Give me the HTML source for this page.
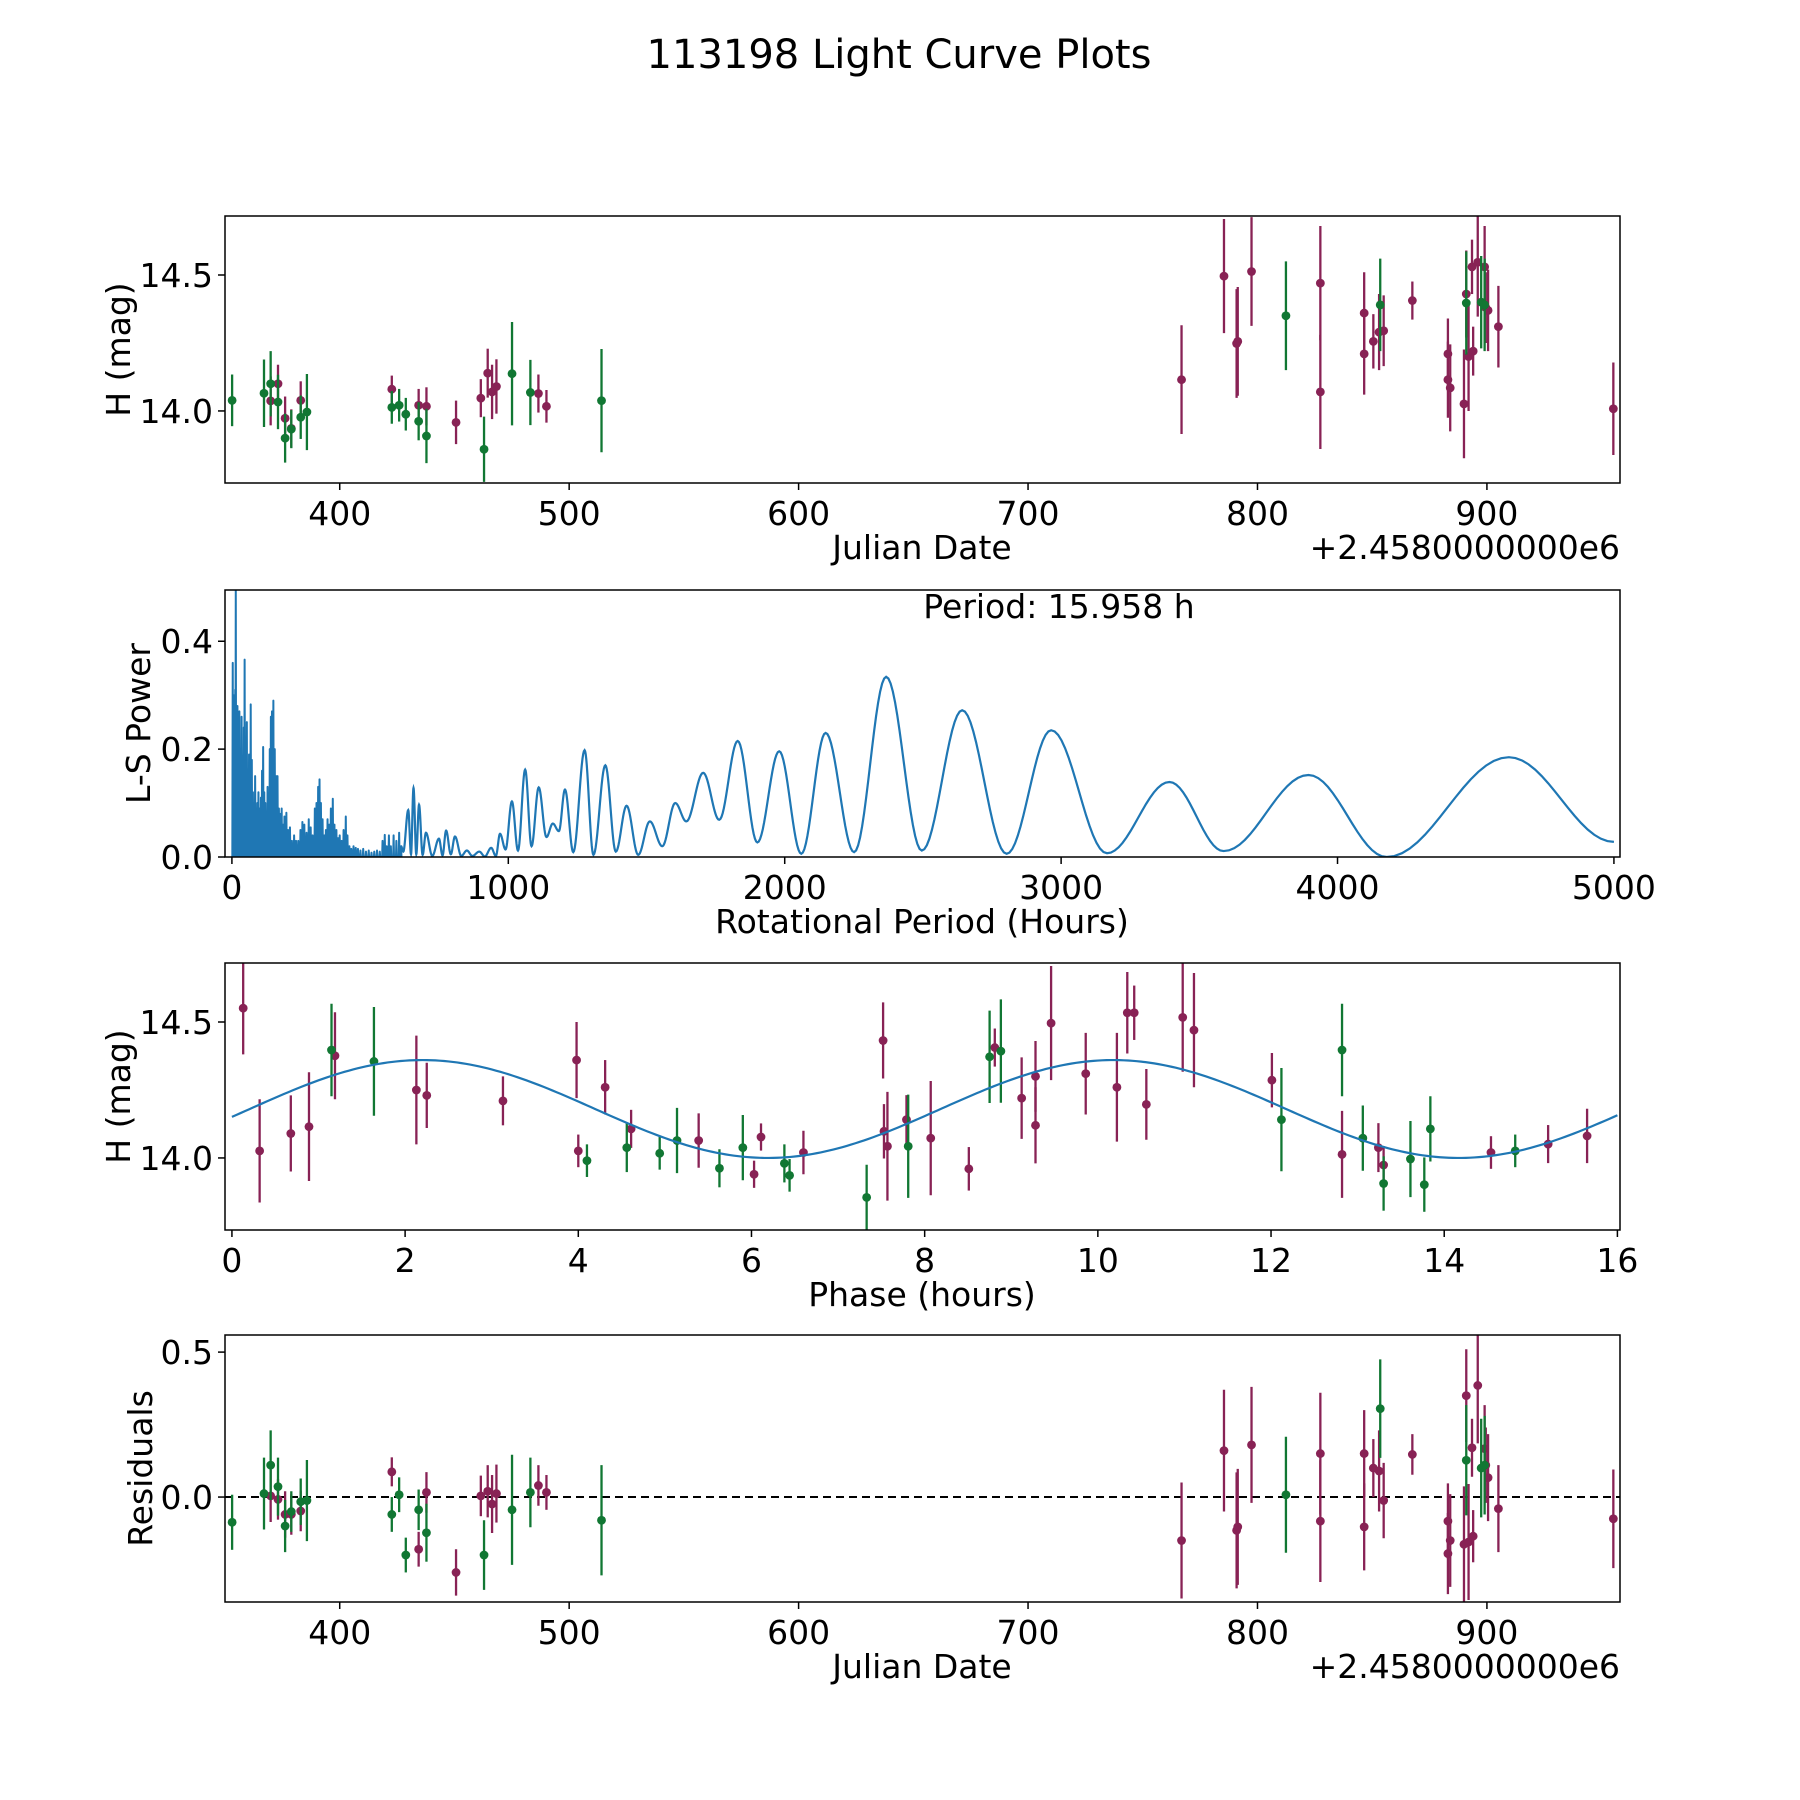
<!DOCTYPE html>
<html><head><meta charset="utf-8"><style>
body{margin:0;background:#fff;}
svg{display:block;font-family:"DejaVu Sans","Liberation Sans",sans-serif;}
</style></head><body>
<svg id="fig" width="1800" height="1800" viewBox="0 0 1800 1800" xmlns="http://www.w3.org/2000/svg">
<rect width="1800" height="1800" fill="#fff"/>
<text x="899" y="68" font-size="40" text-anchor="middle">113198 Light Curve Plots</text>
</svg>
<script>
// ---- Panel 1 data (Julian date offset, H mag, error) ----
const jdM = [369.9,373.1,376.2,378.9,383,422.7,434.4,437.8,450.7,461.5,464.5,466.4,468.3,486.6,490.1,766.9,785.4,790.9,791.4,797.4,827.4,827.4,846.5,846.5,850.5,853,855,867.5,883,883,884,890,891,892,893.5,894,896,899,899.5,900.5,905,955.1];
const hM = [14.037,14.10,13.973,13.936,14.039,14.08,14.021,14.017,13.958,14.047,14.139,14.07,14.09,14.064,14.017,14.115,14.496,14.248,14.256,14.513,14.47,14.07,14.36,14.21,14.256,14.29,14.295,14.406,14.21,14.115,14.085,14.026,14.43,14.2,14.53,14.22,14.547,14.53,14.38,14.37,14.31,14.008];
const eM = [.09,.07,.08,.07,.07,.05,.06,.07,.08,.07,.09,.1,.1,.07,.06,.2,.21,.2,.2,.2,.21,.21,.15,.15,.1,.14,.13,.07,.13,.14,.16,.2,.16,.2,.1,.09,.2,.15,.13,.15,.15,.17];
const resM = [0.004,-0.008,-0.06,-0.06,-0.048,0.087,-0.18,0.016,-0.26,0.004,0.02,-0.024,0.012,0.04,0.016,-0.15,0.16,-0.115,-0.103,0.18,0.15,-0.083,0.15,-0.103,0.1,0.09,-0.012,0.147,-0.083,-0.195,-0.15,-0.163,0.35,-0.155,0.17,-0.135,0.385,0.167,0.11,0.067,-0.04,-0.075];
const jdG = [353.1,367,369.9,373.1,376.2,378.9,383,385.7,422.7,425.9,428.8,434.4,437.8,462.9,475.1,483.1,514.1,812.4,853.5,891,897.5,899];
const hG = [14.039,14.065,14.10,14.033,13.90,13.933,13.977,13.996,14.013,14.021,13.988,13.962,13.908,13.859,14.137,14.068,14.038,14.35,14.39,14.397,14.4,14.39];
const eG = [.095,.124,.12,.1,.09,.07,.08,.14,.06,.06,.06,.07,.1,.12,.19,.12,.19,.2,.17,.19,.17,.17];
const resG = [-0.087,0.012,0.11,0.036,-0.10,-0.05,-0.016,-0.012,-0.06,0.008,-0.2,-0.044,-0.123,-0.2,-0.044,0.016,-0.08,0.008,0.305,0.127,0.1,0.11];
// ---- Phase-folded data ----
const phM = [0.13,0.32,0.68,0.89,1.19,2.13,2.25,3.13,3.98,4.0,4.31,4.61,5.39,6.03,6.11,6.6,7.52,7.53,7.57,7.79,8.07,8.51,8.81,9.12,9.28,9.28,9.46,9.86,10.22,10.34,10.42,10.56,10.98,11.11,12.01,12.82,13.24,13.3,14.54,15.2,15.65];
const phHM = [14.551,14.026,14.09,14.115,14.376,14.25,14.23,14.21,14.36,14.026,14.26,14.107,14.064,13.94,14.077,14.02,14.432,14.098,14.043,14.141,14.073,13.96,14.406,14.22,14.30,14.12,14.496,14.31,14.26,14.534,14.534,14.197,14.517,14.47,14.286,14.013,14.038,13.974,14.02,14.051,14.081];
const phEM = [.17,.19,.14,.2,.16,.2,.12,.09,.14,.06,.1,.07,.1,.05,.05,.08,.14,.1,.2,.09,.21,.08,.07,.15,.13,.14,.21,.15,.2,.15,.1,.13,.2,.21,.1,.16,.09,.07,.06,.07,.1];
const phG = [1.15,1.64,4.1,4.56,4.94,5.14,5.63,5.9,6.38,6.44,7.33,7.81,8.75,8.88,12.12,12.82,13.06,13.3,13.61,13.77,13.84,14.82];
const phHG = [14.397,14.355,13.99,14.038,14.017,14.064,13.962,14.038,13.98,13.936,13.855,14.043,14.372,14.393,14.141,14.397,14.073,13.906,13.996,13.902,14.107,14.026];
const phEG = [.17,.2,.06,.09,.06,.12,.07,.12,.07,.06,.12,.19,.17,.19,.19,.17,.12,.1,.14,.1,.12,.06];
// model: [mean, amplitude, peak phase, sinusoid period]
const modelParams = [14.18, 0.18, 2.2, 7.979];
// ---- Periodogram ----
const spikeP = [3,6,9,12,14,17,20,24,27,31,35,39,43,46,50,54,58,62,66,68,72,76,80,84,88,92,96,100,105,109,113,117,121,125,129,133,137,141,145,150,155,160,165,170,175,180,185,190,197,203,210,217,225,232,240,248,255,262,270,278,285,292,300,306,312,317,322,328,334,340,346,352,358,365,371,378,384,390,397,404,412,418,425,432,440,448,456,465,475,485,495,505,515,525,535,545,553,560,568,575,585,595,605,612];
const spikePow = [0.36,0.30,0.27,0.31,0.5,0.25,0.28,0.22,0.27,0.2,0.26,0.18,0.24,0.366,0.2,0.25,0.15,0.19,0.14,0.283,0.18,0.12,0.1,0.15,0.09,0.1,0.12,0.09,0.11,0.16,0.204,0.12,0.1,0.08,0.13,0.09,0.2,0.26,0.27,0.29,0.2,0.15,0.15,0.09,0.08,0.09,0.06,0.075,0.082,0.05,0.055,0.03,0.04,0.03,0.03,0.05,0.065,0.06,0.045,0.07,0.055,0.04,0.09,0.1,0.13,0.144,0.1,0.07,0.04,0.05,0.07,0.06,0.09,0.108,0.06,0.05,0.035,0.04,0.03,0.05,0.075,0.04,0.02,0.015,0.02,0.017,0.015,0.012,0.015,0.01,0.012,0.008,0.01,0.012,0.01,0.03,0.041,0.02,0.04,0.02,0.04,0.03,0.045,0.02];
const extP = [620,638,648,657,667,677,690,702,725,749,762,775,792,807,830,850,870,895,915,938,955,970,990,1013,1035,1061,1084,1110,1138,1161,1183,1205,1235,1276,1308,1351,1389,1428,1470,1512,1557,1604,1644,1705,1763,1830,1901,1980,2060,2148,2251,2367,2496,2642,2803,2964,3166,3392,3588,3895,4178,4620,5000];
const extPow = [0.01,0.087,0.005,0.128,0.005,0.097,0.004,0.045,0.002,0.034,0.003,0.049,0.005,0.038,0.002,0.012,0.002,0.01,0.001,0.017,0.002,0.043,0.014,0.103,0.012,0.162,0.02,0.129,0.037,0.062,0.048,0.125,0.009,0.198,0.004,0.17,0.01,0.095,0.004,0.066,0.02,0.1,0.066,0.156,0.069,0.215,0.027,0.196,0.006,0.23,0.009,0.334,0.012,0.272,0.006,0.235,0.007,0.139,0.011,0.152,0.0,0.185,0.028];

const NS='http://www.w3.org/2000/svg';
const svg=document.getElementById('fig');
const MAG='#882255', GRN='#117733', BLUE='#1f77b4';
const FS=33;
function el(tag,attrs,parent){const e=document.createElementNS(NS,tag);for(const k in attrs)e.setAttribute(k,attrs[k]);(parent||svg).appendChild(e);return e;}
function txt(s,attrs,parent){const e=el('text',attrs,parent);e.textContent=s;return e;}

function makeAxes(cfg){
  const g=el('g',{});
  
  
  const L=225,R=1620,T=cfg.top,B=cfg.top+267;
  const sx=v=>L+(v-cfg.xlim[0])/(cfg.xlim[1]-cfg.xlim[0])*(R-L);
  const sy=v=>B-(v-cfg.ylim[0])/(cfg.ylim[1]-cfg.ylim[0])*(B-T);
  const clipId='clip-'+cfg.name;
  const cp=el('clipPath',{id:clipId},g);el('rect',{x:L,y:T,width:R-L,height:B-T},cp);
  const plot=el('g',{'clip-path':'url(#'+clipId+')'},g);
  
  
  cfg.xticks.forEach((t,i)=>{const x=sx(t);
    el('line',{x1:x,x2:x,y1:B,y2:B+7,stroke:'#000','stroke-width':1.5},g);
    const lb=txt(cfg.xtl[i],{x:x,y:B+42,'font-size':FS,'text-anchor':'middle'},g);
    
    });
  cfg.yticks.forEach((t,i)=>{const y=sy(t);
    el('line',{x1:L-7,x2:L,y1:y,y2:y,stroke:'#000','stroke-width':1.5},g);
    const lb=txt(cfg.ytl[i],{x:L-12,y:y+12,'font-size':FS,'text-anchor':'end'},g);
    
    });
  const xl=txt(cfg.xlabel,{x:922,y:B+76,'font-size':FS,'text-anchor':'middle'},g);
  
  
  const yl=txt(cfg.ylabel,{x:0,y:0,'font-size':FS,'text-anchor':'middle',transform:`translate(${cfg.ylx},${(T+B)/2}) rotate(-90)`},g);
  
  
  if(cfg.offset){const o=txt(cfg.offset,{x:R,y:B+76,'font-size':FS,'text-anchor':'end'},g);
    
    }
  return {g,plot,sx,sy,L,R,T,B};
}
function frame(ax){el('rect',{x:ax.L,y:ax.T,width:ax.R-ax.L,height:ax.B-ax.T,fill:'none',stroke:'#000','stroke-width':1.5},ax.g);}
function errSeries(ax,xs,ys,es,color,name){
  const sg=el('g',{},ax.plot);
  
  
  xs.forEach((x,i)=>{
    const px=ax.sx(x);
    el('line',{x1:px,x2:px,y1:ax.sy(ys[i]-es[i]),y2:ax.sy(ys[i]+es[i]),stroke:color,'stroke-width':2.3},sg);
    const c=el('circle',{cx:px,cy:ax.sy(ys[i]),r:4.4,fill:color},sg);
    
    
  });
}
const jdTicks=[400,500,600,700,800,900];
const a1=makeAxes({name:'light-curve-panel',top:216,xlim:[350,958],ylim:[13.735,14.717],xticks:jdTicks,xtl:jdTicks.map(String),yticks:[14.0,14.5],ytl:['14.0','14.5'],xlabel:'Julian Date',ylabel:'H (mag)',ylx:130,offset:'+2.4580000000e6'});
errSeries(a1,jdM,hM,eM,MAG,'series-magenta');
errSeries(a1,jdG,hG,eG,GRN,'series-green');
frame(a1);
const pTicks=[0,1000,2000,3000,4000,5000];
const a2=makeAxes({name:'periodogram-panel',top:590,xlim:[-25,5022],ylim:[0,0.495],xticks:pTicks,xtl:pTicks.map(String),yticks:[0,0.2,0.4],ytl:['0.0','0.2','0.4'],xlabel:'Rotational Period (Hours)',ylabel:'L-S Power',ylx:150});
(function(){
  let d='M'+a2.sx(0)+','+a2.sy(0);
  spikeP.forEach((p,i)=>{d+=' L'+a2.sx(p-1.5)+','+a2.sy(0)+' L'+a2.sx(p)+','+a2.sy(spikePow[i])+' L'+a2.sx(p+1.5)+','+a2.sy(0);});
  const sp=el('path',{d:d+' Z',fill:BLUE,stroke:BLUE,'stroke-width':2,'stroke-linejoin':'round'},a2.plot);
  
  
  let c='M'+a2.sx(spikeP[spikeP.length-1])+','+a2.sy(spikePow[spikePow.length-1]);
  let prevP=spikeP[spikeP.length-1], prevV=spikePow[spikePow.length-1];
  for(let i=0;i<extP.length;i++){
    const p1=extP[i],v1=extPow[i];
    for(let k=1;k<=16;k++){const f=k/16;const w=(1-Math.cos(Math.PI*f))/2;
      c+=' L'+a2.sx(prevP+(p1-prevP)*f).toFixed(2)+','+a2.sy(prevV+(v1-prevV)*w).toFixed(2);}
    prevP=p1;prevV=v1;
  }
  const ln=el('path',{d:c,fill:'none',stroke:BLUE,'stroke-width':2.2},a2.plot);
  
  
})();
const pt=txt('Period: 15.958 h',{x:1059,y:618,'font-size':FS,'text-anchor':'middle'},a2.g);


frame(a2);
const phTicks=[0,2,4,6,8,10,12,14,16];
const a3=makeAxes({name:'phase-panel',top:963,xlim:[-0.08,16.03],ylim:[13.735,14.717],xticks:phTicks,xtl:phTicks.map(String),yticks:[14.0,14.5],ytl:['14.0','14.5'],xlabel:'Phase (hours)',ylabel:'H (mag)',ylx:130});
errSeries(a3,phM,phHM,phEM,MAG,'phase-series-magenta');
errSeries(a3,phG,phHG,phEG,GRN,'phase-series-green');
(function(){
  let d='';for(let k=0;k<=320;k++){const ph=k*16/320;
    const v=modelParams[0]+modelParams[1]*Math.cos(2*Math.PI*(ph-modelParams[2])/modelParams[3]);
    d+=(k?' L':'M')+a3.sx(ph).toFixed(2)+','+a3.sy(v).toFixed(2);}
  const m=el('path',{d:d,fill:'none',stroke:BLUE,'stroke-width':2.2},a3.plot);
  
  
})();
frame(a3);
const a4=makeAxes({name:'residuals-panel',top:1335,xlim:[350,958],ylim:[-0.362,0.559],xticks:jdTicks,xtl:jdTicks.map(String),yticks:[0,0.5],ytl:['0.0','0.5'],xlabel:'Julian Date',ylabel:'Residuals',ylx:152,offset:'+2.4580000000e6'});
const zl=el('line',{x1:a4.L,x2:a4.R,y1:a4.sy(0),y2:a4.sy(0),stroke:'#000','stroke-width':2,'stroke-dasharray':'8,5'},a4.plot);


errSeries(a4,jdM,resM,eM,MAG,'residual-series-magenta');
errSeries(a4,jdG,resG,eG,GRN,'residual-series-green');
frame(a4);
</script>
</body></html>
